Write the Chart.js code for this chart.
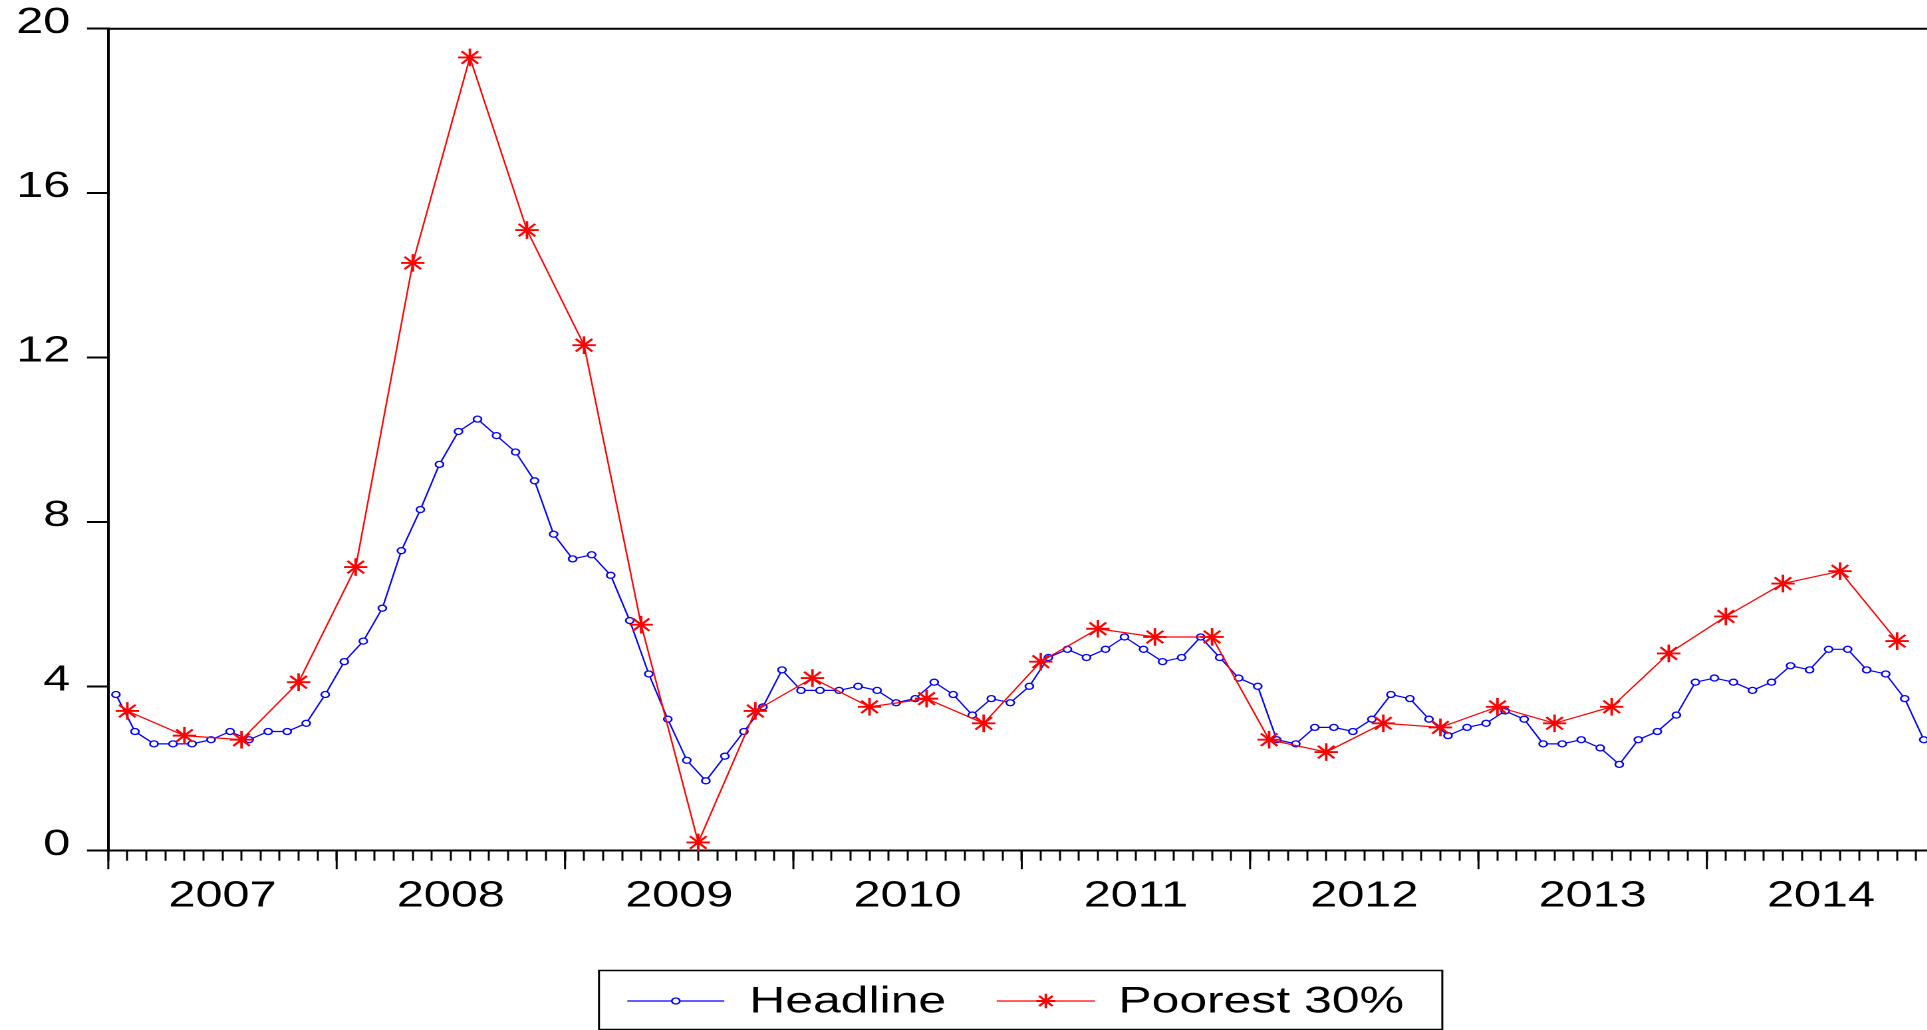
<!DOCTYPE html>
<html>
<head>
<meta charset="utf-8">
<title>Headline vs Poorest 30% inflation</title>
<script src="https://cdn.jsdelivr.net/npm/chart.js@4.4.1/dist/chart.umd.min.js"></script>
<style>
  html, body { margin: 0; padding: 0; background: #ffffff; overflow: hidden; width: 1927px; height: 1030px; }
  #frame { position: absolute; left: 0; top: 0; height: 1030px; transform-origin: 0 0; }
  canvas { display: block; }
</style>
</head>
<body>
<div id="frame"><canvas id="cpi"></canvas></div>
<script>
// ---- data -------------------------------------------------------------
// Year labels, one per calendar year on the time axis
const YEARS = ['2007', '2008', '2009', '2010', '2011', '2012', '2013', '2014'];

// Headline inflation, monthly, Jan 2007 - Dec 2014 (%)
const HEADLINE = [
  3.8, 2.9, 2.6, 2.6, 2.6, 2.7, 2.9, 2.7, 2.9, 2.9, 3.1, 3.8,
  4.6, 5.1, 5.9, 7.3, 8.3, 9.4, 10.2, 10.5, 10.1, 9.7, 9.0, 7.7,
  7.1, 7.2, 6.7, 5.6, 4.3, 3.2, 2.2, 1.7, 2.3, 2.9, 3.5, 4.4,
  3.9, 3.9, 3.9, 4.0, 3.9, 3.6, 3.7, 4.1, 3.8, 3.3, 3.7, 3.6,
  4.0, 4.7, 4.9, 4.7, 4.9, 5.2, 4.9, 4.6, 4.7, 5.2, 4.7, 4.2,
  4.0, 2.7, 2.6, 3.0, 3.0, 2.9, 3.2, 3.8, 3.7, 3.2, 2.8, 3.0,
  3.1, 3.4, 3.2, 2.6, 2.6, 2.7, 2.5, 2.1, 2.7, 2.9, 3.3, 4.1,
  4.2, 4.1, 3.9, 4.1, 4.5, 4.4, 4.9, 4.9, 4.4, 4.3, 3.7, 2.7
];

// Inflation faced by the poorest 30% of households, quarterly (%)
const POOREST = [
  3.4, 2.8, 2.7, 4.1,
  6.9, 14.3, 19.3, 15.1,
  12.3, 5.5, 0.2, 3.4,
  4.2, 3.5, 3.7, 3.1,
  4.6, 5.4, 5.2, 5.2,
  2.7, 2.4, 3.1, 3.0,
  3.5, 3.1, 3.5, 4.8,
  5.7, 6.5, 6.8, 5.1
];

// Y axis tick values
const Y_TICKS = [0, 4, 8, 12, 16, 20];

// ---- layout -----------------------------------------------------------
const STRETCH = 1.33;                 // horizontal stretch of the whole figure
const W = Math.ceil(1927 / STRETCH);  // drawing width before stretch
const H = 1030;
const AXIS_LEFT = 108.3 / STRETCH;    // position of the value axis
const PLOT_TOP = 28.7;
const PLOT_BOTTOM = 850.7;
const MONTH_PX = 19.03 / STRETCH;     // width of one month on the time axis
const X_MAX = (W - AXIS_LEFT) / MONTH_PX;
const MONTH_POS = 0.4;                // monthly observation offset within its month
const QUARTER_POS = 1;                // quarterly observation sits at the quarter's 2nd month tick
const FONT = '"Liberation Sans", Arial, Helvetica, sans-serif';

const frame = document.getElementById('frame');
frame.style.width = W + 'px';
frame.style.transform = 'scaleX(' + STRETCH + ')';
const canvas = document.getElementById('cpi');
canvas.width = W;
canvas.height = H;

const headlinePts = HEADLINE.map((v, i) => ({ x: i + MONTH_POS, y: v }));
const poorestPts = POOREST.map((v, j) => ({ x: 3 * j + QUARTER_POS, y: v }));
const monthCount = YEARS.length * 12;

// keep the scales from reserving extra room around the plot
function noScalePadding(scale) {
  scale.paddingTop = 0;
  scale.paddingBottom = 0;
  scale.paddingLeft = 0;
  scale.paddingRight = 0;
}

// frame line on top, long year ticks and the boxed legend
const frameAndLegend = {
  id: 'frameAndLegend',
  afterDraw(chart) {
    const { ctx, chartArea } = chart;
    const xs = chart.scales.x;
    ctx.save();

    // top frame line
    ctx.strokeStyle = '#000';
    ctx.lineWidth = 2;
    ctx.beginPath();
    ctx.moveTo(chartArea.left - 1, chartArea.top);
    ctx.lineTo(chartArea.right, chartArea.top);
    ctx.stroke();

    // longer ticks at year boundaries
    ctx.lineWidth = 1.5;
    for (let m = 0; m < monthCount; m += 12) {
      const px = xs.getPixelForValue(m);
      ctx.beginPath();
      ctx.moveTo(px, chartArea.bottom);
      ctx.lineTo(px, chartArea.bottom + 18.5);
      ctx.stroke();
    }

    // legend box
    const box = { left: 599 / STRETCH, right: 1442.3 / STRETCH, top: 970.5, bottom: 1029.5 };
    ctx.lineWidth = 1.5;
    ctx.strokeStyle = '#000';
    ctx.strokeRect(box.left, box.top, box.right - box.left, box.bottom - box.top);

    const rowY = 1001;
    const items = [
      { ds: 0, lineFrom: 627.3, lineTo: 724.3, textX: 749.3, markR: 3.0 },
      { ds: 1, lineFrom: 996.7, lineTo: 1095, textX: 1118.3, markR: 7.2 }
    ];
    ctx.font = '37.5px ' + FONT;
    ctx.textBaseline = 'alphabetic';
    ctx.textAlign = 'left';
    items.forEach(it => {
      const d = chart.data.datasets[it.ds];
      const x0 = it.lineFrom / STRETCH, x1 = it.lineTo / STRETCH;
      ctx.strokeStyle = d.borderColor;
      ctx.lineWidth = d.borderWidth;
      ctx.beginPath();
      ctx.moveTo(x0, rowY);
      ctx.lineTo(x1, rowY);
      ctx.stroke();
      ctx.strokeStyle = d.pointBorderColor;
      ctx.fillStyle = d.pointBackgroundColor;
      ctx.lineWidth = d.pointBorderWidth;
      Chart.helpers.drawPoint(ctx, {
        pointStyle: d.pointStyle, radius: it.markR, rotation: 0, borderWidth: d.pointBorderWidth
      }, (x0 + x1) / 2, rowY);
      ctx.fillStyle = '#000';
      ctx.fillText(d.label, it.textX / STRETCH, 1012.3);
    });
    ctx.restore();
  }
};

new Chart(canvas, {
  type: 'line',
  data: {
    datasets: [
      {
        label: 'Headline',
        data: headlinePts,
        borderColor: '#0000ff',
        borderWidth: 1.2,
        pointStyle: 'circle',
        pointRadius: 3.0,
        pointBorderWidth: 1.3,
        pointBorderColor: '#0000ff',
        pointBackgroundColor: '#ffffff',
        tension: 0,
        clip: false,
        order: 2
      },
      {
        label: 'Poorest 30%',
        data: poorestPts,
        borderColor: '#ff0000',
        borderWidth: 1.2,
        pointStyle: 'star',
        pointRadius: 8.8,
        pointBorderWidth: 1.9,
        pointBorderColor: '#ff0000',
        pointBackgroundColor: '#ff0000',
        tension: 0,
        clip: false,
        order: 1
      }
    ]
  },
  options: {
    responsive: false,
    animation: false,
    devicePixelRatio: 2,
    events: [],
    layout: { autoPadding: false, padding: { top: PLOT_TOP, left: 0, right: 0, bottom: 0 } },
    plugins: {
      legend: { display: false },
      tooltip: { enabled: false }
    },
    scales: {
      x: {
        type: 'linear',
        min: 0,
        max: X_MAX,
        afterFit(scale) { scale.height = H - PLOT_BOTTOM; noScalePadding(scale); },
        afterBuildTicks(scale) {
          scale.ticks = Array.from({ length: monthCount }, (_, m) => ({ value: m }));
        },
        grid: {
          display: true,
          drawOnChartArea: false,
          drawTicks: true,
          tickLength: 10,
          tickWidth: 1.5,
          tickColor: '#000'
        },
        border: { display: true, color: '#000', width: 2 },
        ticks: {
          autoSkip: false,
          maxRotation: 0,
          minRotation: 0,
          padding: 14,
          color: '#000',
          font: { family: FONT, size: 36.5 },
          callback(value) {
            return value % 12 === 6 ? YEARS[(value - 6) / 12] : '';
          }
        }
      },
      y: {
        type: 'linear',
        min: 0,
        max: 20,
        afterFit(scale) { scale.width = AXIS_LEFT; noScalePadding(scale); },
        afterBuildTicks(scale) {
          scale.ticks = Y_TICKS.map(v => ({ value: v }));
        },
        grid: {
          display: true,
          drawOnChartArea: false,
          drawTicks: true,
          tickLength: 16,
          tickWidth: 2,
          tickColor: '#000'
        },
        border: { display: true, color: '#000', width: 2 },
        ticks: {
          padding: 12.6,
          labelOffset: -6,
          color: '#000',
          font: { family: FONT, size: 36.5 }
        }
      }
    }
  },
  plugins: [frameAndLegend]
});
</script>
</body>
</html>
